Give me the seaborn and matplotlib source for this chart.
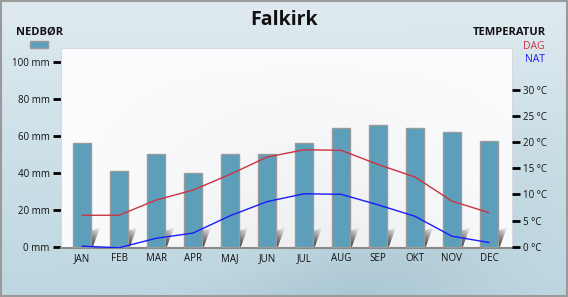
import numpy as np
import pandas as pd
import matplotlib
matplotlib.use("Agg")
import matplotlib.pyplot as plt
import seaborn as sns
from matplotlib.patches import Polygon, Rectangle

# ---- data ----
months = ["JAN", "FEB", "MAR", "APR", "MAJ", "JUN", "JUL", "AUG", "SEP", "OKT", "NOV", "DEC"]
precip_mm = [56, 41, 50, 40, 50, 50, 56, 64, 66, 64, 62, 57]
temp_day = [6.0, 6.0, 8.9, 10.8, 13.8, 17.1, 18.5, 18.4, 15.7, 13.3, 8.7, 6.5]
temp_night = [0.1, -0.2, 1.6, 2.6, 5.9, 8.6, 10.1, 10.0, 8.0, 5.8, 2.0, 0.8]
mm_ticks = [0, 20, 40, 60, 80, 100]
c_ticks = [0, 5, 10, 15, 20, 25, 30]
title = "Falkirk"

BAR = "#5d9fba"
RED = "#cc3340"
BLUE = "#1a1aff"

sns.set_theme(style="white")
plt.rcParams['font.family'] = ['Open Sans', 'DejaVu Sans']

fig = plt.figure(figsize=(5.68, 2.97), dpi=100)

# ---- figure background gradient ----
bg = fig.add_axes([0, 0, 1, 1], zorder=-10)
bg.axis('off')
H, W = 297, 568
yy, xx = np.mgrid[0:H, 0:W]
t = yy / H
top = np.array([0.875, 0.918, 0.94])
bot = np.array([0.74, 0.84, 0.88])
img = top[None, None, :] * (1 - t[..., None]) + bot[None, None, :] * t[..., None]
d = ((xx - W * 0.62) + (yy - H) * 0.9) / 120.0
band = np.exp(-d ** 2) * (yy / H) ** 2 * 0.07
img = np.clip(img - band[..., None] * np.array([1.0, 0.8, 0.7]), 0, 1)
bg.imshow(img, extent=(0, 1, 0, 1), aspect='auto', transform=bg.transAxes)
bg.set_xlim(0, 1); bg.set_ylim(0, 1)
bg.add_patch(Rectangle((0.001, 0.002), 0.997, 0.995, transform=bg.transAxes,
                       fill=False, edgecolor="#9a9a9a", lw=1.5))

# ---- main axes ----
ax = fig.add_axes([0.1069, 0.166, 0.795, 0.6734])
ax.patch.set_visible(False)
df = pd.DataFrame({"month": months, "mm": precip_mm})
sns.barplot(data=df, x="month", y="mm", ax=ax, color=BAR, saturation=1,
            width=0.47, edgecolor="#9a9a9a", linewidth=1, zorder=3)

# plot area gradient
ph, pw = 100, 200
py, px = np.mgrid[0:ph, 0:pw]
g = 0.985 - 0.05 * (py / ph) * np.exp(-((px / pw - 0.55) / 0.35) ** 2)
pimg = np.dstack([g, g + 0.003, g + 0.01]).clip(0, 1)
ax.imshow(pimg, extent=(0, 1, 0, 1), transform=ax.transAxes, aspect='auto', zorder=0)

ax.set_xlim(-0.576, 11.63)
ax.set_ylim(-0.54, 107.6)

# shadow wedges next to each bar
sh_img = np.zeros((40, 20, 3))
for i in range(40):
    for j in range(20):
        v = 0.2 + 0.6 * (1 - i / 39) + 0.2 * (j / 19)
        sh_img[i, j] = min(v, 0.88)
for p in list(ax.patches):
    if not isinstance(p, Rectangle):
        continue
    xr = p.get_x() + p.get_width()
    poly = Polygon([(xr, 0), (xr, 8.5), (xr + 0.25, 10.3), (xr + 0.06, 0)],
                   closed=True, facecolor='none', edgecolor='none', transform=ax.transData)
    ax.add_patch(poly)
    im = ax.imshow(sh_img, extent=(xr, xr + 0.25, 0, 10.3), aspect='auto',
                   origin='upper', zorder=2)
    im.set_clip_path(poly)

ax.set_xlim(-0.576, 11.63)
ax.set_ylim(-0.54, 107.6)
ax.set_yticks(mm_ticks, labels=[f"{v} mm" for v in mm_ticks])
ax.tick_params(axis='y', direction='out', length=6, width=2, color='black',
               labelsize=7, pad=2, left=True, labelcolor='#111111')
ax.tick_params(axis='x', length=0, pad=4, labelsize=7, labelcolor='#111111')
ax.set_xlabel('')
ax.set_ylabel('')
for s in ['top', 'left', 'right']:
    ax.spines[s].set_color('#d6dadf')
    ax.spines[s].set_linewidth(0.8)
ax.spines['bottom'].set_color('#8a8a8a')
ax.spines['bottom'].set_linewidth(1.5)

# ---- temperature axes ----
ax2 = ax.twinx()
pos = np.arange(len(months))
sns.lineplot(x=pos, y=temp_day, ax=ax2, color=RED, lw=1)
sns.lineplot(x=pos, y=temp_night, ax=ax2, color=BLUE, lw=1)
ax2.set_ylim(-0.19, 37.98)
ax2.set_xlim(-0.576, 11.63)
ax2.set_yticks(c_ticks, labels=[f"{v} °C" for v in c_ticks])
ax2.tick_params(axis='y', direction='out', length=6, width=2, color='black',
                labelsize=7, pad=2, right=True, labelcolor='#111111')
ax2.set_ylabel('')
for s in ax2.spines.values():
    s.set_visible(False)

# ---- texts ----
fig.text(0.5, 0.933, title, ha='center', va='center', fontsize=14, fontweight='bold', color='#111111')
fig.text(0.028, 0.892, "NEDBØR", ha='left', va='center', fontsize=8, fontweight='bold', color='#111111')
fig.text(0.961, 0.892, "TEMPERATUR", ha='right', va='center', fontsize=8, fontweight='bold', color='#111111')
fig.text(0.959, 0.845, "DAG", ha='right', va='center', fontsize=7.5, color=RED)
fig.text(0.959, 0.798, "NAT", ha='right', va='center', fontsize=7.5, color=BLUE)
fig.patches.append(Rectangle((30 / W, 1 - 47.5 / H), 18 / W, 6.5 / H, transform=fig.transFigure,
                             facecolor=BAR, edgecolor='#9a9a9a', lw=1, figure=fig))

fig.savefig("out.png", dpi=100)
